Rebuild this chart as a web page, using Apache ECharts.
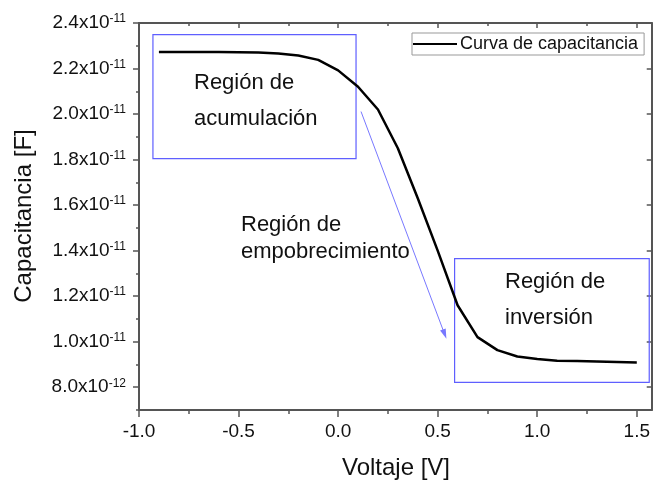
<!DOCTYPE html>
<html>
<head>
<meta charset="utf-8">
<script src="https://cdn.jsdelivr.net/npm/echarts@6/dist/echarts.min.js"></script>
<style>
html,body{margin:0;padding:0;background:#fff;}
#chart{width:653px;height:483px;}
</style>
</head>
<body>
<div id="chart"></div>
<script>
// Voltage (V)
var voltage = [-0.9,-0.8,-0.7,-0.6,-0.5,-0.4,-0.3,-0.2,-0.1,0.0,0.1,0.2,0.3,0.4,0.5,0.6,0.7,0.8,0.9,1.0,1.1,1.2,1.3,1.4,1.5];
// Capacitance in units of 1e-12 F
var capacitance_pF = [22.73,22.73,22.73,22.73,22.72,22.70,22.66,22.57,22.38,21.92,21.2,20.2,18.5,16.3,14.0,11.6,10.2,9.63,9.35,9.24,9.16,9.15,9.13,9.11,9.09];
// tick values
var xTicks = [-1.0,-0.5,0.0,0.5,1.0,1.5];
var xMinorTicks = [-0.75,-0.25,0.25,0.75,1.25];
var yTicks = [8,10,12,14,16,18,20,22,24];
var yMinorTicks = [7,9,11,13,15,17,19,21,23];
// annotation regions (data coords)
var accumRegion = {x:[-0.93,0.09], y:[18.04,23.49]};
var invRegion = {x:[0.585,1.5625], y:[8.21,13.65]};
var arrowFromTo = [[0.115,20.11],[0.535,10.33]];

var FONT = 'Liberation Sans';
var chart = echarts.init(document.getElementById('chart'));
var xMin = -1, xMax = 1.575, yMin = 7, yMax = 24;
var axisColor = '#555';

function yLabel(v){
  var mant, exp;
  if (v >= 10) { mant = (v/10).toFixed(1); exp = '-11'; }
  else { mant = v.toFixed(1); exp = '-12'; }
  return '{m|' + mant + 'x10}{s|' + exp + '}';
}

var option = {
  animation: false,
  backgroundColor: '#fff',
  textStyle: {fontFamily: FONT},
  grid: {left: 139, top: 23, right: -2, bottom: 73, containLabel: false},
  legend: {
    data: ['Curva de capacitancia'],
    left: 412, top: 33,
    icon: 'rect', itemWidth: 44, itemHeight: 2, itemGap: 4,
    borderColor: '#999', borderWidth: 1, padding: [2, 6, 2, 1],
    textStyle: {fontFamily: FONT, fontSize: 18, color: '#111', padding: [0,0,0,-2]}
  },
  xAxis: [
    {type: 'value', position: 'bottom', min: xMin, max: xMax, interval: 0.5,
     axisLine: {onZero: false, lineStyle: {color: axisColor, width: 2}},
     axisTick: {customValues: xTicks, length: 7, lineStyle: {color: axisColor, width: 1.5}},
     axisLabel: {customValues: xTicks, margin: 12, fontSize: 19, color: '#111', fontFamily: FONT,
                 formatter: function(v){ return v.toFixed(1); }},
     splitLine: {show: false}},
    {type: 'value', position: 'bottom', min: xMin, max: xMax, interval: 0.25,
     axisLine: {show: false, onZero: false},
     axisTick: {customValues: xMinorTicks, length: 4, lineStyle: {color: axisColor, width: 1.5}},
     axisLabel: {show: false}, splitLine: {show: false}},
    {type: 'value', position: 'top', min: xMin, max: xMax, interval: 0.5,
     axisLine: {onZero: false, lineStyle: {color: axisColor, width: 2}},
     axisTick: {inside: true, customValues: xTicks, length: 5, lineStyle: {color: axisColor, width: 1.5}},
     axisLabel: {show: false}, splitLine: {show: false}},
    {type: 'value', position: 'top', min: xMin, max: xMax, interval: 0.25,
     axisLine: {show: false, onZero: false},
     axisTick: {inside: true, customValues: xMinorTicks, length: 3, lineStyle: {color: axisColor, width: 1.5}},
     axisLabel: {show: false}, splitLine: {show: false}}
  ],
  yAxis: [
    {type: 'value', position: 'left', min: yMin, max: yMax, interval: 1,
     axisLine: {onZero: false, lineStyle: {color: axisColor, width: 2}},
     axisTick: {customValues: yTicks, length: 6, lineStyle: {color: axisColor, width: 1.5}},
     axisLabel: {customValues: yTicks, margin: 13, color: '#111', formatter: yLabel,
       rich: {
         m: {fontFamily: FONT, fontSize: 19, color: '#111', lineHeight: 20},
         s: {fontFamily: FONT, fontSize: 12, color: '#111', lineHeight: 12, verticalAlign: 'top'}
       }},
     splitLine: {show: false}},
    {type: 'value', position: 'left', min: yMin, max: yMax, interval: 1,
     axisLine: {show: false, onZero: false},
     axisTick: {customValues: yMinorTicks, length: 3, lineStyle: {color: axisColor, width: 1.5}},
     axisLabel: {show: false}, splitLine: {show: false}},
    {type: 'value', position: 'right', min: yMin, max: yMax, interval: 1,
     axisLine: {onZero: false, lineStyle: {color: axisColor, width: 2}},
     axisTick: {inside: true, customValues: yTicks, length: 5, lineStyle: {color: axisColor, width: 1.5}},
     axisLabel: {show: false}, splitLine: {show: false}}
  ],
  series: [{
    name: 'Curva de capacitancia',
    type: 'line',
    xAxisIndex: 0, yAxisIndex: 0,
    data: voltage.map(function(v, i){ return [v, capacitance_pF[i]]; }),
    symbol: 'none',
    smooth: false,
    lineStyle: {color: '#000', width: 2.5},
    itemStyle: {color: '#000'},
    markArea: {
      silent: true,
      itemStyle: {color: 'rgba(0,0,0,0)', borderColor: '#5f5fff', borderWidth: 1.2},
      label: {show: false},
      data: [
        [{coord: [accumRegion.x[0], accumRegion.y[1]]}, {coord: [accumRegion.x[1], accumRegion.y[0]]}],
        [{coord: [invRegion.x[0], invRegion.y[1]]}, {coord: [invRegion.x[1], invRegion.y[0]]}]
      ]
    },
    markLine: {
      silent: true,
      symbol: ['none', 'triangle'],
      symbolSize: [6, 10],
      label: {show: false},
      lineStyle: {color: '#7878ff', width: 1, type: 'solid'},
      itemStyle: {color: '#3030ff'},
      data: [[{coord: arrowFromTo[0]}, {coord: arrowFromTo[1], itemStyle: {color: '#3030ff'}}]]
    }
  }],
  graphic: [
    {type: 'text', left: 194, top: 72, style: {text: 'Región de', fontFamily: FONT, fontSize: 22, fill: '#111'}},
    {type: 'text', left: 194, top: 108, style: {text: 'acumulación', fontFamily: FONT, fontSize: 22, fill: '#111'}},
    {type: 'text', left: 241, top: 214, style: {text: 'Región de', fontFamily: FONT, fontSize: 22, fill: '#111'}},
    {type: 'text', left: 241, top: 241, style: {text: 'empobrecimiento', fontFamily: FONT, fontSize: 22, fill: '#111'}},
    {type: 'text', left: 505, top: 271, style: {text: 'Región de', fontFamily: FONT, fontSize: 22, fill: '#111'}},
    {type: 'text', left: 505, top: 307, style: {text: 'inversión', fontFamily: FONT, fontSize: 22, fill: '#111'}},
    {type: 'text', x: 396, y: 468, style: {text: 'Voltaje [V]', fontFamily: FONT, fontSize: 24, fill: '#111', align: 'center', verticalAlign: 'middle'}},
    {type: 'text', x: 24, y: 216, rotation: Math.PI/2, style: {text: 'Capacitancia [F]', fontFamily: FONT, fontSize: 24, fill: '#111', align: 'center', verticalAlign: 'middle'}}
  ]
};
chart.setOption(option);
</script>
</body>
</html>
